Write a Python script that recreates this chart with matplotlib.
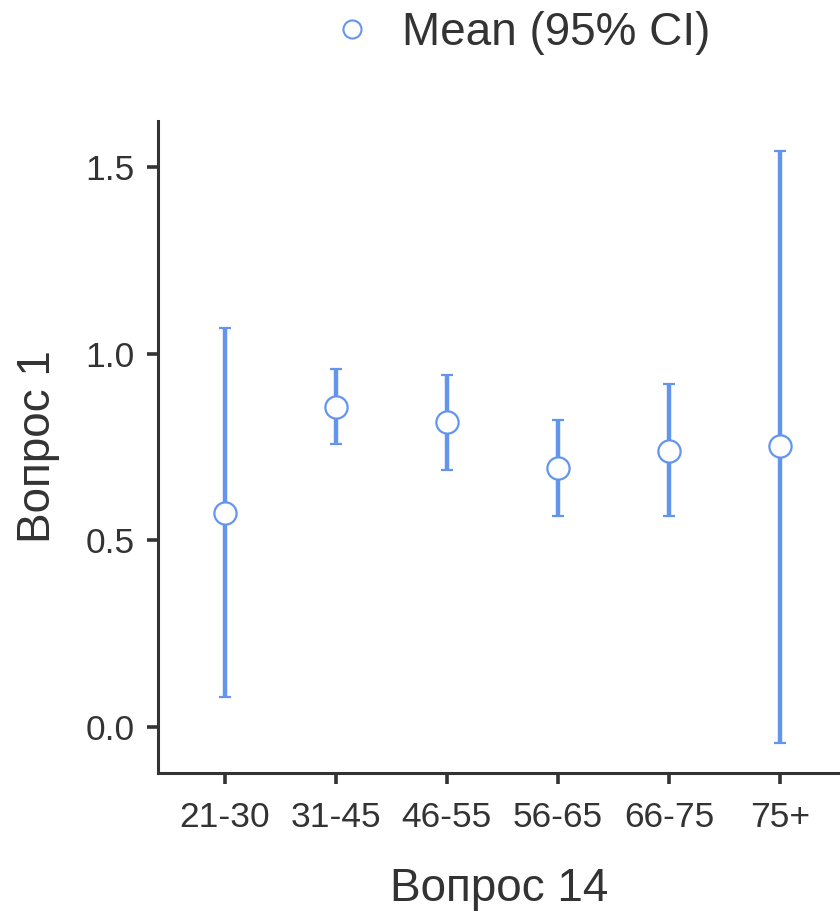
import matplotlib.pyplot as plt
from matplotlib.lines import Line2D

plt.rcParams['font.family'] = ['Liberation Sans', 'DejaVu Sans']

# data
groups = ['21-30', '31-45', '46-55', '56-65', '66-75', '75+']
means = [0.574, 0.858, 0.818, 0.694, 0.740, 0.753]
lower = [0.080, 0.759, 0.689, 0.566, 0.566, -0.043]
upper = [1.070, 0.960, 0.944, 0.823, 0.920, 1.544]

blue = '#6495ED'
dark = '#333333'

fig = plt.figure(figsize=(8.4, 9.15), dpi=100)
ax = fig.add_axes([158/840, 1 - 773/915, 1 - 158/840, (773 - 121)/915])

x = list(range(len(groups)))
err = [[m - l for m, l in zip(means, lower)], [u - m for m, u in zip(means, upper)]]
ax.errorbar(x, means, yerr=err, fmt='o', color=blue, ecolor=blue,
            elinewidth=3.2, capsize=4.5, capthick=3.2,
            markersize=16, markerfacecolor='white', markeredgecolor=blue,
            markeredgewidth=1.6, zorder=3)

ax.set_xlim(-0.6, 5.54)
ax.set_ylim(-0.123, 1.623)
ax.set_xticks(x)
ax.set_xticklabels(groups)
ax.set_yticks([0.0, 0.5, 1.0, 1.5])
ax.set_yticklabels(['0.0', '0.5', '1.0', '1.5'])

for side in ['top', 'right']:
    ax.spines[side].set_visible(False)
for side in ['left', 'bottom']:
    ax.spines[side].set_linewidth(2.2)
    ax.spines[side].set_color(dark)

ax.tick_params(axis='both', length=8, width=2.6, color=dark, labelcolor=dark,
               labelsize=25.5, pad=9)
ax.tick_params(axis='x', pad=12)
ax.set_xlabel('Вопрос 14', fontsize=33, color=dark, labelpad=24)
ax.set_ylabel('Вопрос 1', fontsize=33, color=dark, labelpad=18)

handle = Line2D([], [], marker='o', linestyle='none', markersize=13,
                markerfacecolor='white', markeredgecolor=blue, markeredgewidth=1.5)
fig.legend([handle], ['Mean (95% CI)'], loc='center', bbox_to_anchor=(520/840, 1 - 33/915),
           frameon=False, fontsize=33, labelcolor=dark, handlelength=1.0,
           handletextpad=0.6, borderaxespad=0, borderpad=0)

fig.savefig('out.png', dpi=100)
